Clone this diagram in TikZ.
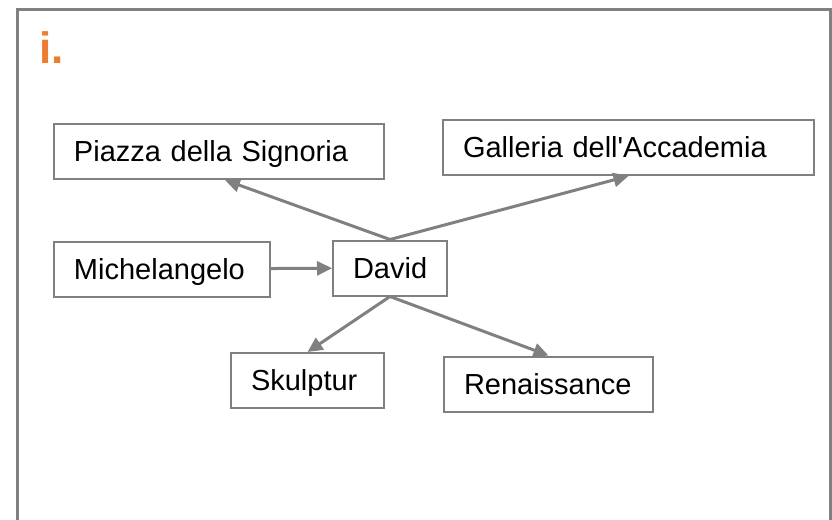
\documentclass[tikz,border=0pt]{standalone}
\usepackage{fontspec}
\setmainfont{Liberation Sans}
\usetikzlibrary{arrows.meta}
\definecolor{linegray}{RGB}{128,128,128}
\definecolor{titleorange}{RGB}{237,125,49}

\begin{document}
\begin{tikzpicture}[x=.5pt, y=-.5pt, >={Triangle[length=7.5pt,width=7pt]},
    box/.style={draw=linegray, line width=1pt, inner xsep=10pt, inner ysep=0pt,
        minimum height=27.5pt, align=left, font=\fontsize{14.5}{17}\selectfont,
        text height=10.4pt, text depth=0pt},
    link/.style={->, draw=linegray, line width=1.5pt}]
    \useasboundingbox (0,0) rectangle (832,520);
    \draw[linegray, line width=1.5pt] (17,520) -- (17,9) -- (830,9) -- (830,520);
    \node[anchor=base west, inner sep=0pt, text=titleorange,
        font=\fontsize{22}{26}\selectfont\bfseries] (title) at (39,63) {i.};
    
    % boxes
    \node[box, text width=145pt] (piazza) at (219,151.5) {Piazza della Signoria};
    \node[box, text width=165.5pt] (galleria) at (628.5,147.5) {Galleria dell\textquotesingle Accademia};
    \node[box, text width=88pt] (michelangelo) at (162,269) {Michelangelo};
    \node[box, text width=37pt] (david) at (390,268) {David};
    \node[box, text width=56.5pt] (skulptur) at (307.5,380.5) {Skulptur};
    \node[box, text width=84.5pt] (renaissance) at (548.5,384) {Renaissance};
    
    % arrows
    \draw[link] (michelangelo) -- (david);
    \draw[link] (david.north) -- ([xshift=3pt]piazza.south);
    \draw[link] (david.north) -- (galleria.south);
    \foreach \b in {skulptur, renaissance}
    {
        \draw[link] (david.south) -- (\b.north);
    }
\end{tikzpicture}
\end{document}
